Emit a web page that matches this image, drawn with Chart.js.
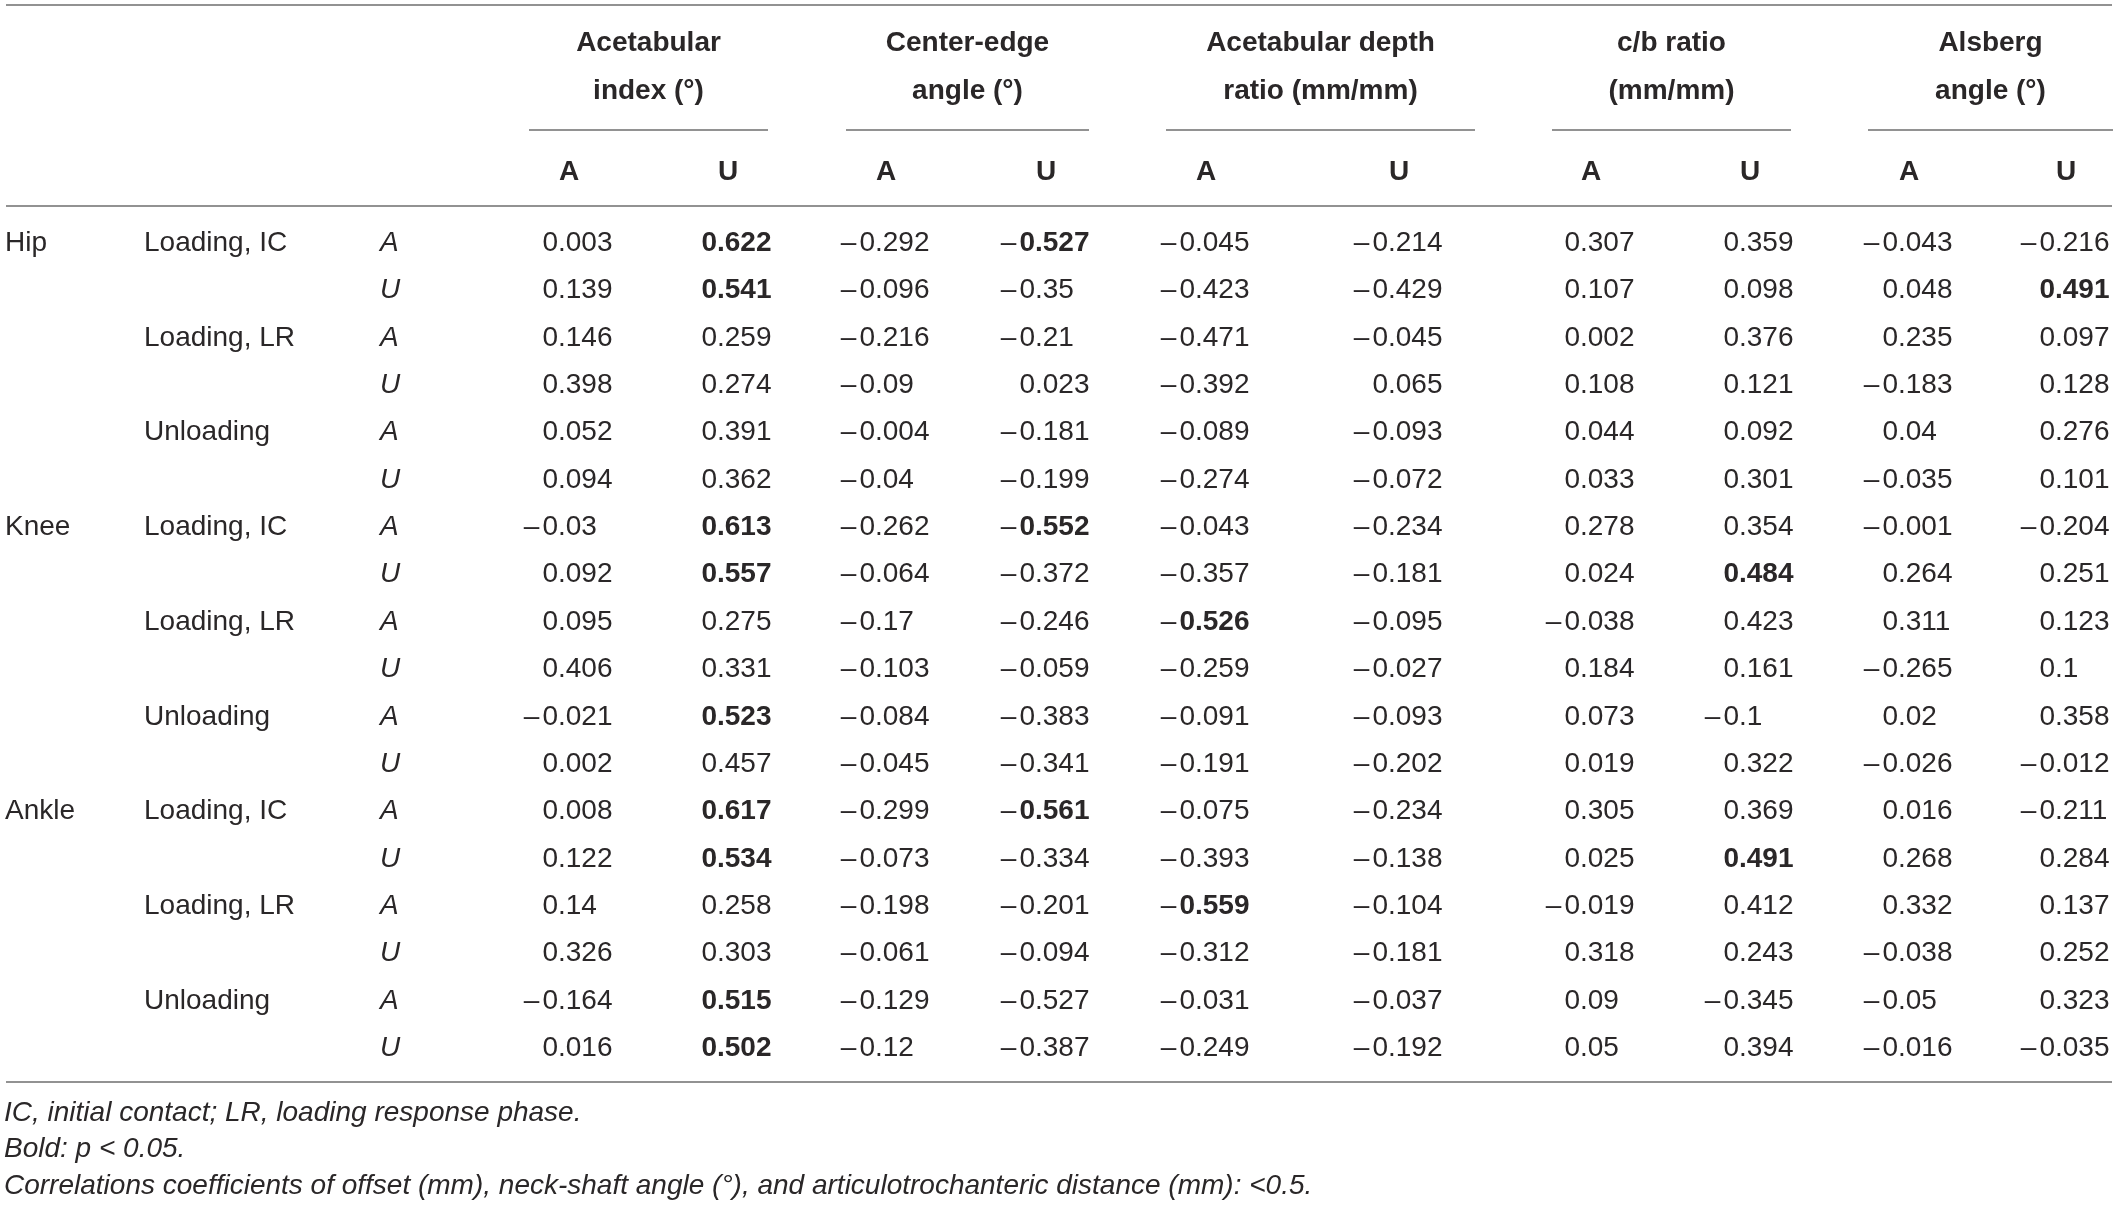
<!DOCTYPE html>
<html><head><meta charset="utf-8">
<script src="https://cdn.jsdelivr.net/npm/chart.js@4.4.1/dist/chart.umd.min.js"></script>
<style>html,body{margin:0;padding:0;background:#fff;overflow:hidden}#wrap{width:2118px;height:1205px}</style>
</head><body><div id="wrap"><canvas id="c" width="2118" height="1205"></canvas></div>
<script>
// ---------- data ----------
const joints = ["Hip", "Knee", "Ankle"];
const phases = ["Loading, IC", "Loading, LR", "Unloading"];
const sides = ["A", "U"];
const measureTitle1 = ["Acetabular", "Center-edge", "Acetabular depth", "c/b ratio", "Alsberg"];
const measureTitle2 = ["index (°)", "angle (°)", "ratio (mm/mm)", "(mm/mm)", "angle (°)"];
const subCols = ["A", "U"];

const acetIndexA = [0.003, 0.139, 0.146, 0.398, 0.052, 0.094, -0.03, 0.092, 0.095, 0.406, -0.021, 0.002, 0.008, 0.122, 0.14, 0.326, -0.164, 0.016];
const acetIndexU = [0.622, 0.541, 0.259, 0.274, 0.391, 0.362, 0.613, 0.557, 0.275, 0.331, 0.523, 0.457, 0.617, 0.534, 0.258, 0.303, 0.515, 0.502];
const ceAngleA   = [-0.292, -0.096, -0.216, -0.09, -0.004, -0.04, -0.262, -0.064, -0.17, -0.103, -0.084, -0.045, -0.299, -0.073, -0.198, -0.061, -0.129, -0.12];
const ceAngleU   = [-0.527, -0.35, -0.21, 0.023, -0.181, -0.199, -0.552, -0.372, -0.246, -0.059, -0.383, -0.341, -0.561, -0.334, -0.201, -0.094, -0.527, -0.387];
const depthA     = [-0.045, -0.423, -0.471, -0.392, -0.089, -0.274, -0.043, -0.357, -0.526, -0.259, -0.091, -0.191, -0.075, -0.393, -0.559, -0.312, -0.031, -0.249];
const depthU     = [-0.214, -0.429, -0.045, 0.065, -0.093, -0.072, -0.234, -0.181, -0.095, -0.027, -0.093, -0.202, -0.234, -0.138, -0.104, -0.181, -0.037, -0.192];
const cbRatioA   = [0.307, 0.107, 0.002, 0.108, 0.044, 0.033, 0.278, 0.024, -0.038, 0.184, 0.073, 0.019, 0.305, 0.025, -0.019, 0.318, 0.09, 0.05];
const cbRatioU   = [0.359, 0.098, 0.376, 0.121, 0.092, 0.301, 0.354, 0.484, 0.423, 0.161, -0.1, 0.322, 0.369, 0.491, 0.412, 0.243, -0.345, 0.394];
const alsbergA   = [-0.043, 0.048, 0.235, -0.183, 0.04, -0.035, -0.001, 0.264, 0.311, -0.265, 0.02, -0.026, 0.016, 0.268, 0.332, -0.038, -0.05, -0.016];
const alsbergU   = [-0.216, 0.491, 0.097, 0.128, 0.276, 0.101, -0.204, 0.251, 0.123, 0.1, 0.358, -0.012, -0.211, 0.284, 0.137, 0.252, 0.323, -0.035];

// rows (0-based) significant at p < 0.05 (bold)
const sigAcetIndexA = [];
const sigAcetIndexU = [0, 1, 6, 7, 10, 12, 13, 16, 17];
const sigCeAngleA = [];
const sigCeAngleU = [0, 6, 12];
const sigDepthA = [8, 14];
const sigDepthU = [];
const sigCbRatioA = [];
const sigCbRatioU = [7, 13];
const sigAlsbergA = [];
const sigAlsbergU = [1];

const footnotes = [
  "IC, initial contact; LR, loading response phase.",
  "Bold: p < 0.05.",
  "Correlations coefficients of offset (mm), neck-shaft angle (°), and articulotrochanteric distance (mm): <0.5."
];

// ---------- layout / style ----------
const W = 2118, H = 1205;
const FF = '"Liberation Sans", Arial, Helvetica, sans-serif';
const FS = 28;
const TXT = '#2a2728';
const RULE = '#929292';
const colX = [558, 717, 875, 1035, 1195, 1388, 1580, 1739, 1898, 2055];
const groupSpan = [[529, 768], [846, 1089], [1166, 1475], [1552, 1791], [1868, 2113]];
const ROW_Y0 = 251, ROW_H = 47.35;          // baseline of first body row
const rulesY = [5, 206, 1082];
const groupRuleY = 130;
const headBase = [51, 99, 180];
const footBase = [1121, 1157, 1194];
const xJoint = 5, xPhase = 144, xSide = 380, xFoot = 4, ruleL = 6, ruleR = 2112;

const columns = [acetIndexA, acetIndexU, ceAngleA, ceAngleU, depthA, depthU, cbRatioA, cbRatioU, alsbergA, alsbergU];
const sigs = [sigAcetIndexA, sigAcetIndexU, sigCeAngleA, sigCeAngleU, sigDepthA, sigDepthU, sigCbRatioA, sigCbRatioU, sigAlsbergA, sigAlsbergU];
const nRows = acetIndexA.length;
const rowY = i => ROW_Y0 + i * ROW_H;

const datasets = columns.map((vals, j) => ({
  label: 'col' + j,
  data: vals.map((v, i) => ({ x: colX[j], y: rowY(i), v: v, bold: sigs[j].includes(i) })),
  pointRadius: 0, pointHoverRadius: 0, showLine: false
}));

const tablePlugin = {
  id: 'tablePlugin',
  afterDatasetsDraw(chart) {
    const ctx = chart.ctx, xs = chart.scales.x, ys = chart.scales.y;
    const px = v => xs.getPixelForValue(v), py = v => ys.getPixelForValue(v);
    ctx.save();
    // rules
    ctx.strokeStyle = RULE; ctx.lineWidth = 2;
    rulesY.forEach(y => { ctx.beginPath(); ctx.moveTo(px(ruleL), py(y)); ctx.lineTo(px(ruleR), py(y)); ctx.stroke(); });
    groupSpan.forEach(s => { ctx.beginPath(); ctx.moveTo(px(s[0]), py(groupRuleY)); ctx.lineTo(px(s[1]), py(groupRuleY)); ctx.stroke(); });
    // header
    ctx.fillStyle = TXT; ctx.textBaseline = 'alphabetic';
    ctx.font = `bold ${FS}px ${FF}`; ctx.textAlign = 'center';
    groupSpan.forEach((s, g) => {
      const cx = px((s[0] + s[1]) / 2);
      ctx.fillText(measureTitle1[g], cx, py(headBase[0]));
      ctx.fillText(measureTitle2[g], cx, py(headBase[1]));
      subCols.forEach((sc, k) => ctx.fillText(sc, px(colX[g * 2 + k] + 11), py(headBase[2])));
    });
    // row labels
    ctx.textAlign = 'left';
    for (let i = 0; i < nRows; i++) {
      const y = py(rowY(i));
      ctx.font = `${FS}px ${FF}`;
      if (i % 6 === 0) ctx.fillText(joints[i / 6], px(xJoint), y);
      if (i % 2 === 0) ctx.fillText(phases[(i % 6) / 2], px(xPhase), y);
      ctx.font = `italic ${FS}px ${FF}`;
      ctx.fillText(sides[i % 2], px(xSide), y);
    }
    // values, decimal aligned at each point's position
    chart.data.datasets.forEach((ds, d) => {
      const meta = chart.getDatasetMeta(d);
      meta.data.forEach((el, i) => {
        const p = ds.data[i];
        const s = String(Math.abs(p.v));
        const dot = s.indexOf('.');
        const ip = dot < 0 ? s : s.slice(0, dot), fp = dot < 0 ? '' : s.slice(dot);
        ctx.font = p.bold ? `bold ${FS}px ${FF}` : `${FS}px ${FF}`;
        ctx.textAlign = 'right'; ctx.fillText(ip, el.x, el.y);
        const iw = ctx.measureText(ip).width;
        ctx.textAlign = 'left'; ctx.fillText(fp, el.x, el.y);
        if (p.v < 0) {
          ctx.font = `${FS}px ${FF}`; ctx.textAlign = 'right';
          ctx.fillText('\u2013', el.x - iw - 3, el.y);
        }
      });
    });
    // footnotes
    ctx.font = `italic ${FS}px ${FF}`; ctx.textAlign = 'left';
    footnotes.forEach((t, k) => ctx.fillText(t, px(xFoot), py(footBase[k])));
    ctx.restore();
  }
};

new Chart(document.getElementById('c'), {
  type: 'scatter',
  data: { datasets },
  options: {
    responsive: false, devicePixelRatio: 1, animation: false, events: [],
    layout: { padding: 0 },
    plugins: { legend: { display: false }, tooltip: { enabled: false }, title: { display: false } },
    scales: {
      x: { type: 'linear', min: 0, max: W, display: false },
      y: { type: 'linear', min: 0, max: H, reverse: true, display: false }
    }
  },
  plugins: [tablePlugin]
});
</script></body></html>
